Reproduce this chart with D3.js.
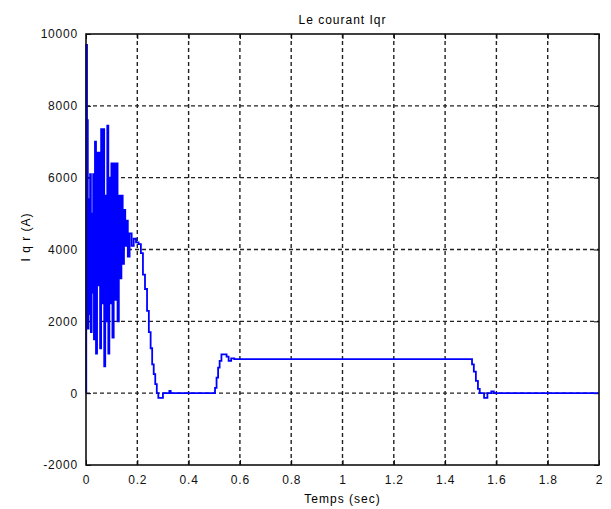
<!DOCTYPE html>
<html>
<head>
<meta charset="utf-8">
<script src="https://cdn.jsdelivr.net/npm/d3@7"></script>
<style>
  body { margin: 0; background: #fff; }
  text { font-family: "Liberation Sans", Arial, sans-serif; }
</style>
</head>
<body>
<div id="chart"></div>
<script>
// signal Iqr (time in s, current in A), held between samples
var times = [0, 0.001, 0.004, 0.007, 0.010, 0.013, 0.016, 0.019, 0.022, 0.025,
  0.028, 0.031, 0.035, 0.039, 0.043, 0.047, 0.051, 0.055, 0.059, 0.063,
  0.067, 0.071, 0.075, 0.079, 0.083, 0.087, 0.091, 0.095, 0.099, 0.103,
  0.108, 0.113, 0.118, 0.123, 0.128, 0.133, 0.138, 0.143, 0.148, 0.153,
  0.158, 0.163, 0.170, 0.178, 0.186, 0.195, 0.205, 0.214, 0.222, 0.230,
  0.238, 0.245, 0.252, 0.258, 0.264, 0.270, 0.276, 0.282, 0.300, 0.325,
  0.330, 0.496, 0.503, 0.509, 0.515, 0.521, 0.528, 0.548, 0.556, 0.566,
  0.578, 1.498, 1.505, 1.512, 1.520, 1.528, 1.535, 1.552, 1.565, 1.580,
  1.590, 2.0];
var values = [0, 9700, 7600, 1800, 5400, 2200, 6100, 1700, 5000, 2800,
  6100, 1500, 7000, 1100, 6700, 3000, 6700, 1250, 7350, 2500,
  7350, 750, 5500, 2000, 7450, 1100, 6000, 2500, 6400, 1550,
  6400, 2600, 6400, 2000, 5500, 3200, 5500, 3600, 5100, 4100,
  4800, 3800, 4450, 4100, 4300, 4200, 4150, 3900, 3300, 2900,
  2290, 1700, 1250, 800, 530, 250, 0, -130, 0, 60,
  0, 0, 150, 430, 710, 900, 1080, 1020, 900, 970,
  950, 950, 800, 600, 340, 120, 0, -130, 0, 50,
  0, 0];

var xTicks = [0, 0.2, 0.4, 0.6, 0.8, 1, 1.2, 1.4, 1.6, 1.8, 2];
var yTicks = [-2000, 0, 2000, 4000, 6000, 8000, 10000];

var width = 611, height = 509;
var pLeft = 86, pRight = 599, pTop = 34, pBottom = 465;

var svg = d3.select("#chart").append("svg")
  .attr("width", width)
  .attr("height", height);

var x = d3.scaleLinear().domain([0, 2]).range([pLeft, pRight]);
var y = d3.scaleLinear().domain([-2000, 10000]).range([pBottom, pTop]);

/* grid */
svg.selectAll("line.vgrid")
  .data(xTicks.slice(1, -1))
  .enter()
  .append("line")
  .attr("class", "vgrid")
  .attr("x1", function(d){return x(d)})
  .attr("x2", function(d){return x(d)})
  .attr("y1", pTop)
  .attr("y2", pBottom)
  .attr("stroke", "#222")
  .attr("stroke-width", 1.4)
  .attr("stroke-dasharray", "4,3");

svg.selectAll("line.hgrid")
  .data(yTicks.slice(1, -1))
  .enter()
  .append("line")
  .attr("class", "hgrid")
  .attr("x1", pLeft)
  .attr("x2", pRight)
  .attr("y1", function(d){return y(d)})
  .attr("y2", function(d){return y(d)})
  .attr("stroke", "#222")
  .attr("stroke-width", 1.4)
  .attr("stroke-dasharray", "4,3");

/* axes: labels only, ticks pointing inwards */
svg.append("g")
  .attr("transform", "translate(0," + pBottom + ")")
  .call(d3.axisBottom(x).tickValues(xTicks).tickSize(-5).tickPadding(10)
    .tickFormat(function(d){return String(d)}));
svg.append("g")
  .attr("transform", "translate(" + pLeft + ",0)")
  .call(d3.axisLeft(y).tickValues(yTicks).tickSize(-5).tickPadding(8)
    .tickFormat(function(d){return String(d)}));
svg.append("g")
  .attr("transform", "translate(0," + pTop + ")")
  .call(d3.axisTop(x).tickValues(xTicks).tickSize(-5).tickFormat(""));
svg.append("g")
  .attr("transform", "translate(" + pRight + ",0)")
  .call(d3.axisRight(y).tickValues(yTicks).tickSize(-5).tickFormat(""));

svg.selectAll(".domain").remove();
svg.selectAll(".tick line").attr("stroke", "#000");
svg.selectAll(".tick text")
  .attr("font-size", 12)
  .attr("letter-spacing", 0.8)
  .attr("fill", "#111")
  .attr("font-family", "Liberation Sans, Arial, sans-serif");

/* the signal */
var pts = times.map(function(t, i){return [t, values[i]]});
svg.append("path")
  .datum(pts)
  .attr("fill", "none")
  .attr("stroke", "#0000ff")
  .attr("stroke-width", 1.8)
  .attr("d", d3.line()
    .curve(d3.curveStepAfter)
    .x(function(d){return x(d[0])})
    .y(function(d){return y(d[1])}));

/* frame */
svg.append("rect")
  .attr("x", pLeft)
  .attr("y", pTop)
  .attr("width", pRight - pLeft)
  .attr("height", pBottom - pTop)
  .attr("fill", "none")
  .attr("stroke", "#111")
  .attr("stroke-width", 1.6);

/* labels */
svg.append("text")
  .text("Le courant Iqr")
  .attr("x", (pLeft + pRight) / 2)
  .attr("y", 24)
  .attr("text-anchor", "middle")
  .attr("font-size", 12)
  .attr("letter-spacing", 1);

svg.append("text")
  .text("Temps (sec)")
  .attr("x", (pLeft + pRight) / 2)
  .attr("y", 503)
  .attr("text-anchor", "middle")
  .attr("font-size", 12)
  .attr("letter-spacing", 1);

svg.append("text")
  .text("I q r (A)")
  .attr("transform", "translate(30,237) rotate(-90)")
  .attr("text-anchor", "middle")
  .attr("font-size", 12)
  .attr("letter-spacing", 1);
</script>
</body>
</html>
